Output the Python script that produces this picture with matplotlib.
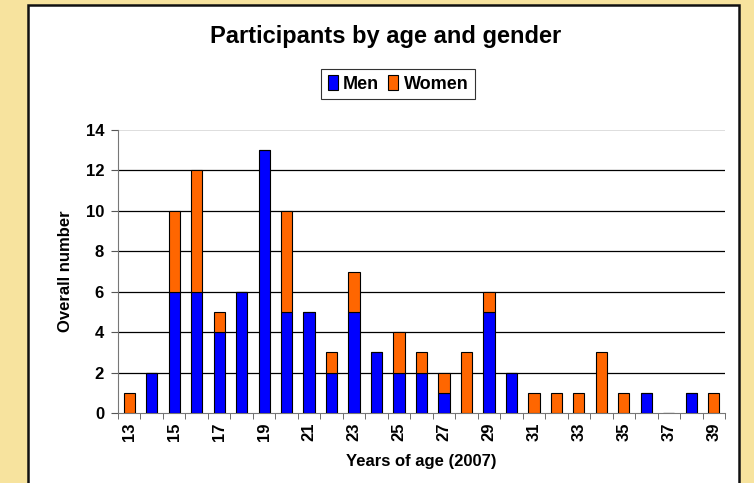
import numpy as np
import matplotlib
matplotlib.use("Agg")
import matplotlib.pyplot as plt
from matplotlib.patches import Rectangle

# ========== DATA ==========
ages = list(range(13, 40))
men = [0, 2, 6, 6, 4, 6, 13, 5, 5, 2, 5, 3, 2, 2, 1, 0, 5, 2, 0, 0, 0, 0, 0, 1, 0, 1, 0]
women = [1, 0, 4, 6, 1, 0, 0, 5, 0, 1, 2, 0, 2, 1, 1, 3, 1, 0, 1, 1, 1, 3, 1, 0, 0, 0, 1]
y_ticks = [0, 2, 4, 6, 8, 10, 12, 14]
# ==========================

BLUE = "#0000FF"
ORANGE = "#FF6600"
BG = "#F7E39E"

plt.rcParams["font.family"] = ["Liberation Sans", "DejaVu Sans"]
plt.rcParams["font.weight"] = "bold"

fig = plt.figure(figsize=(7.54, 4.83), dpi=100)
fig.patch.set_facecolor(BG)

# white chart panel with black border
fig.patches.append(Rectangle((28 / 754, -0.05), 711 / 754, 1 - 5 / 483 + 0.05,
                             transform=fig.transFigure, facecolor="white",
                             edgecolor="#111111", linewidth=1.8, zorder=-10))

ax = fig.add_axes([118 / 754, 1 - 413 / 483, 607 / 754, 283 / 483])
ax.set_facecolor("white")

x = np.array(ages)
ax.bar(x, men, width=0.5, color=BLUE, edgecolor="black", linewidth=0.8,
       label="Men", zorder=3)
ax.bar(x, women, width=0.5, bottom=men, color=ORANGE, edgecolor="black",
       linewidth=0.8, label="Women", zorder=3)

ax.set_xlim(12.5, 39.5)
ax.set_ylim(0, 14)
ax.set_yticks(y_ticks)
ax.set_yticklabels([str(v) for v in y_ticks], fontsize=12, fontweight="bold")

# labels on odd ages, tick marks at category boundaries
odd = [a for a in ages if a % 2 == 1]
ax.set_xticks(odd)
ax.set_xticklabels([str(a) for a in odd], rotation=90, fontsize=12,
                   fontweight="bold")
ax.tick_params(axis="x", which="major", length=0, pad=7)
ax.set_xticks(np.arange(12.5, 40, 1), minor=True)
ax.tick_params(axis="x", which="minor", length=4, color="#555555")
ax.tick_params(axis="y", length=5, color="#555555", pad=5)

for v in y_ticks[1:-1]:
    ax.axhline(v, color="black", linewidth=0.9, zorder=1)
ax.axhline(14, color="#D8D8D8", linewidth=1.2, zorder=1)

for side in ["top", "right"]:
    ax.spines[side].set_visible(False)
ax.spines["left"].set_color("#777777")
ax.spines["bottom"].set_color("#777777")

ax.set_xlabel("Years of age (2007)", fontsize=12, fontweight="bold", labelpad=9)
ax.set_ylabel("Overall number", fontsize=12, fontweight="bold", labelpad=9)

fig.text(386 / 754, 1 - 37 / 483, "Participants by age and gender", ha="center",
         va="center", fontsize=17, fontweight="bold")

leg = fig.legend(loc="center", bbox_to_anchor=(398 / 754, 1 - 84 / 483), ncol=2,
                 frameon=True, fancybox=False, edgecolor="black",
                 prop={"size": 13, "weight": "bold"}, handlelength=0.55,
                 handleheight=0.9, handletextpad=0.3, columnspacing=0.5,
                 borderpad=0.35)
leg.get_frame().set_linewidth(0.8)

fig.savefig("out.png", dpi=100, facecolor=fig.get_facecolor())
